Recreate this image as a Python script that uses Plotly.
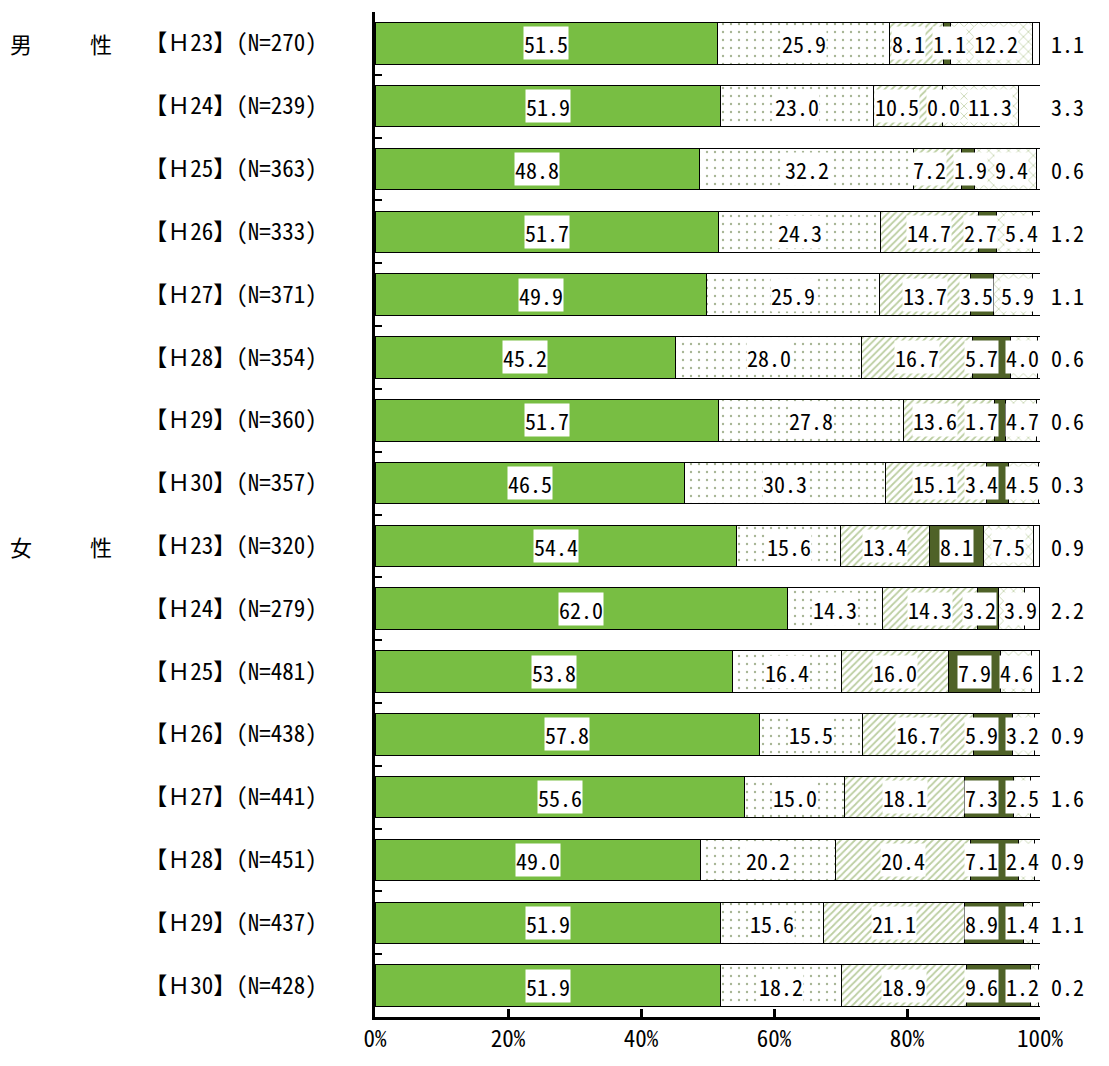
import plotly.graph_objects as go

# ---------------- data ----------------
groups = ["男性"] * 8 + ["女性"] * 8
years = ["H23", "H24", "H25", "H26", "H27", "H28", "H29", "H30"] * 2
n_values = [270, 239, 363, 333, 371, 354, 360, 357,
            320, 279, 481, 438, 441, 451, 437, 428]

s1 = [51.5, 51.9, 48.8, 51.7, 49.9, 45.2, 51.7, 46.5,
      54.4, 62.0, 53.8, 57.8, 55.6, 49.0, 51.9, 51.9]
s2 = [25.9, 23.0, 32.2, 24.3, 25.9, 28.0, 27.8, 30.3,
      15.6, 14.3, 16.4, 15.5, 15.0, 20.2, 15.6, 18.2]
s3 = [8.1, 10.5, 7.2, 14.7, 13.7, 16.7, 13.6, 15.1,
      13.4, 14.3, 16.0, 16.7, 18.1, 20.4, 21.1, 18.9]
s4 = [1.1, 0.0, 1.9, 2.7, 3.5, 5.7, 1.7, 3.4,
      8.1, 3.2, 7.9, 5.9, 7.3, 7.1, 8.9, 9.6]
s5 = [12.2, 11.3, 9.4, 5.4, 5.9, 4.0, 4.7, 4.5,
      7.5, 3.9, 4.6, 3.2, 2.5, 2.4, 1.4, 1.2]
s6 = [1.1, 3.3, 0.6, 1.2, 1.1, 0.6, 0.6, 0.3,
      0.9, 2.2, 1.2, 0.9, 1.6, 0.9, 1.1, 0.2]

x_ticks = [0, 20, 40, 60, 80, 100]
x_ticktext = ["0%", "20%", "40%", "60%", "80%", "100%"]

# ---------------- styling ----------------
FONT = "Noto Sans Mono CJK JP, Noto Sans CJK JP, sans-serif"
GREEN = "#78BE43"
DARK = "#4F6228"
LABEL_SIZE = 22

cats = [f"{g}{y}" for g, y in zip(groups, years)]
ticktext = []
for g, y, n in zip(groups, years, n_values):
    yy = "【Ｈ" + y[1:] + "】"
    ticktext.append(f"{yy}(N={n})")

series = [s1, s2, s3, s4, s5, s6]
fig = go.Figure()

line = dict(color="black", width=1)
styles = [
    dict(color=GREEN, line=line),
    dict(color="white", line=line,
         pattern=dict(shape=".", fgcolor="#4F6B2A", bgcolor="white", size=8, solidity=0.07)),
    dict(color="white", line=line,
         pattern=dict(shape="/", fgcolor="#7A9E45", bgcolor="white", size=5, solidity=0.35)),
    dict(color=DARK, line=line),
    dict(color="white", line=line,
         pattern=dict(shape="x", fgcolor="#7A9E45", bgcolor="white", size=7, solidity=0.2)),
    dict(color="white", line=line),
]
for vals, st in zip(series, styles):
    fig.add_trace(go.Bar(y=cats, x=vals, orientation="h", marker=st,
                         width=0.66, showlegend=False, hoverinfo="skip"))


def spread(centers, widths, lo=0.0, hi=100.0, gap=0.9):
    pos = list(centers)
    for _ in range(800):
        moved = False
        for i in range(len(pos) - 1):
            need = (widths[i] + widths[i + 1]) / 2 + gap
            d = pos[i + 1] - pos[i]
            if d < need - 1e-9:
                sh = (need - d) / 2
                pos[i] -= sh
                pos[i + 1] += sh
                moved = True
        if pos[-1] + widths[-1] / 2 > hi:
            pos[-1] = hi - widths[-1] / 2
            moved = True
        if pos[0] - widths[0] / 2 < lo:
            pos[0] = lo + widths[0] / 2
            moved = True
        if not moved:
            break
    return pos


px_per_pct = 665 / 100.0
annotations = []
for r, c in enumerate(cats):
    vals = [s[r] for s in series[:5]]
    centers, widths, texts = [], [], []
    cum = 0.0
    for v in vals:
        centers.append(cum + v / 2)
        t = f"{v:.1f}"
        texts.append(t)
        widths.append((len(t) * LABEL_SIZE * 0.5 + 2) / px_per_pct)
        cum += v
    pos = spread(centers, widths)
    for p, t in zip(pos, texts):
        annotations.append(dict(x=p, y=c, xref="x", yref="y", text=t,
                                showarrow=False, bgcolor="white", borderpad=0,
                                font=dict(family=FONT, size=LABEL_SIZE, color="black")))
    annotations.append(dict(x=100, y=c, xref="x", yref="y", text=f"{s6[r]:.1f}",
                            showarrow=False, xanchor="left", xshift=9,
                            font=dict(family=FONT, size=LABEL_SIZE, color="black")))

for g_label, c in (("男", cats[0]), ("女", cats[8])):
    annotations.append(dict(x=-0.552, y=c, xref="paper", yref="y", text=g_label,
                            showarrow=False, xanchor="left",
                            font=dict(family=FONT, size=22, color="black")))
    annotations.append(dict(x=-0.432, y=c, xref="paper", yref="y", text="性",
                            showarrow=False, xanchor="left",
                            font=dict(family=FONT, size=22, color="black")))

fig.update_layout(
    width=1109, height=1066,
    margin=dict(l=375, r=69, t=12, b=41),
    barmode="stack",
    plot_bgcolor="white",
    paper_bgcolor="white",
    annotations=annotations,
    font=dict(family=FONT, size=21, color="black"),
)
fig.update_xaxes(range=[0, 100], tickvals=x_ticks, ticktext=x_ticktext,
                 showgrid=False, zeroline=False, showline=True, linecolor="black",
                 linewidth=2.5, ticks="inside", ticklen=8, tickwidth=2.5,
                 tickcolor="black", tickfont=dict(family=FONT, size=23))
fig.update_yaxes(categoryorder="array", categoryarray=cats, autorange="reversed",
                 tickvals=cats, ticktext=ticktext, showgrid=False, zeroline=False,
                 showline=True, linecolor="black", linewidth=2.5,
                 ticks="inside", ticklen=7, tickwidth=2, tickcolor="black",
                 tickson="boundaries", ticklabelstandoff=51,
                 tickfont=dict(family=FONT, size=23))

fig.write_html("out.html")
